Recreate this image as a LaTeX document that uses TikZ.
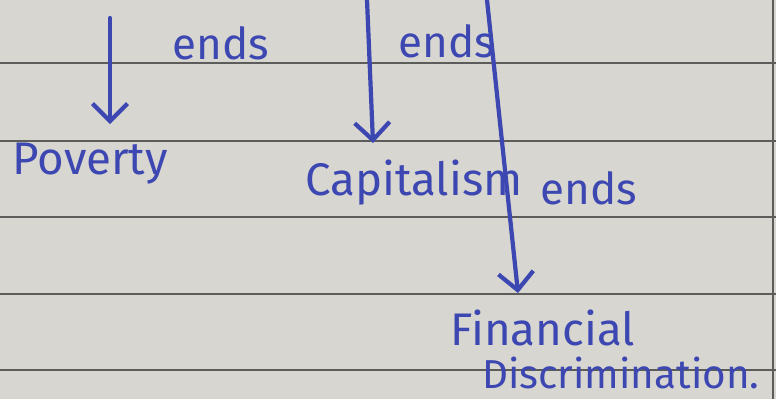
\documentclass[tikz,border=0pt]{standalone}
\usepackage{fontspec}
\setmainfont{Fira Sans}
\usepackage{xcolor}
\usetikzlibrary{arrows.meta,positioning,calc}

\definecolor{ink}{HTML}{3C47B2}
\definecolor{paper}{HTML}{D8D6D0}
\definecolor{ruleline}{HTML}{5C5C5A}

\begin{document}
\begin{tikzpicture}[x=0.02cm, y=-0.02cm,
  word/.style={text=ink, font=\fontsize{26}{28}\selectfont, inner sep=0pt, anchor=base west},
  lbl/.style={text=ink, font=\fontsize{25}{27}\selectfont, inner sep=0pt, anchor=base west},
  arr/.style={draw=ink, line width=2.4pt, line cap=round,
              -{Straight Barb[length=3.5mm, width=7mm, line width=2.4pt]}},
  ruling/.style={draw=ruleline, line width=0.7pt}
]

% paper
\fill[paper] (0,0) rectangle (776,399);
\useasboundingbox (0,0) rectangle (776,399);
\foreach \y in {63,141,217,294,370}
  \draw[ruling] (0,\y) -- (776,\y);
\draw[ruling] (773,0) -- (773,399);

% words
\node[word] (pov)  at (12,174)  {Poverty};
\node[word] (cap)  at (305,195) {Capitalism};
\node[word] (fin)  at (450,345) {Financial};
\node[word, font=\fontsize{23}{25}\selectfont] (disc) at (482,388) {Discrimination.};

% arrows coming from above
\coordinate (src1) at (110,18);
\coordinate (src2) at (367,0);
\coordinate (src3) at (487,0);

\draw[arr] (src1) -- ($(pov.north west)+(98,-18)$);
\draw[arr] (src2) -- ($(cap.north west)+(68,-16)$);
\draw[arr] (src3) -- ($(fin.north west)+(68,-16)$);

% labels
\node[lbl] (e1) at (172,59)  {ends};
\node[lbl] (e2) at (398,57)  {ends};
\node[lbl] (e3) at (540,204) {ends};

\end{tikzpicture}
\end{document}
